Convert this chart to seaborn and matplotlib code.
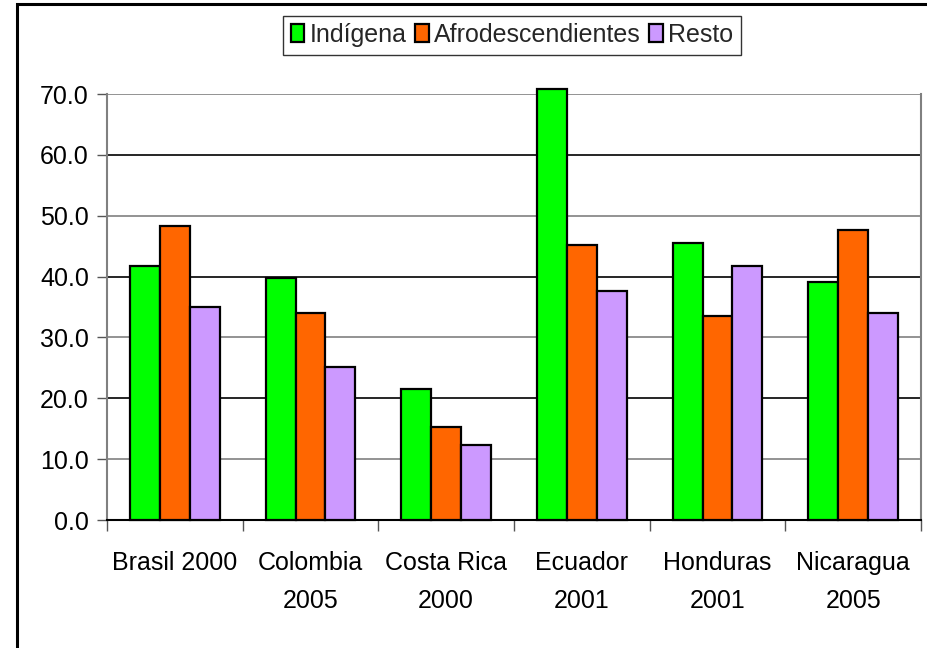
import matplotlib
matplotlib.use("Agg")
import matplotlib.pyplot as plt
from matplotlib.patches import Rectangle
from matplotlib.ticker import FixedLocator, FormatStrFormatter
import seaborn as sns
import pandas as pd

categories = ["Brasil 2000", "Colombia\n2005", "Costa Rica\n2000", "Ecuador\n2001", "Honduras\n2001", "Nicaragua\n2005"]
series_names = ["Indígena", "Afrodescendientes", "Resto"]
indigena = [41.7, 39.8, 21.5, 70.9, 45.5, 39.1]
afro = [48.3, 34.0, 15.3, 45.2, 33.5, 47.6]
resto = [35.0, 25.1, 12.3, 37.6, 41.7, 34.0]
colors = ["#00FF00", "#FF6600", "#CC99FF"]
yticks = [0, 10, 20, 30, 40, 50, 60, 70]

rows = []
for name, vals in zip(series_names, [indigena, afro, resto]):
    for c, v in zip(categories, vals):
        rows.append({"cat": c, "serie": name, "valor": v})
df = pd.DataFrame(rows)

sns.set_theme(style="white")
plt.rcParams["font.family"] = ["Liberation Sans", "DejaVu Sans"]

fig = plt.figure(figsize=(9.28, 6.48), dpi=100)
ax = fig.add_axes([107/928, 1-520/648, (921-107)/928, (520-94)/648])

sns.barplot(data=df, x="cat", y="valor", hue="serie", order=categories,
            hue_order=series_names, palette=colors, width=0.66, gap=0,
            edgecolor="black", linewidth=1.6, saturation=1, ax=ax,
            legend=True, errorbar=None, zorder=3)
for p in ax.patches:
    p.set_clip_on(False)

ax.set_ylim(0, 70)
ax.set_xlim(-0.5, 5.5)
ax.yaxis.set_major_locator(FixedLocator(yticks))
ax.yaxis.set_major_formatter(FormatStrFormatter("%.1f"))
ax.grid(axis="y", linewidth=1.2, zorder=0)
for i, gl in enumerate(ax.yaxis.get_gridlines()):
    gl.set_color("black" if i % 2 == 0 else "#808080")
ax.set_axisbelow(True)

ax.set_xlabel("")
ax.set_ylabel("")
ax.tick_params(axis="y", which="major", left=True, length=7, width=1, color="#555555",
               labelsize=18, pad=6, labelcolor="black")
ax.tick_params(axis="x", which="major", bottom=False, length=0, labelsize=18, pad=22,
               labelcolor="black")
ax.xaxis.set_minor_locator(FixedLocator([-0.5, 0.5, 1.5, 2.5, 3.5, 4.5, 5.5]))
ax.tick_params(axis="x", which="minor", bottom=True, length=8, width=1, color="#555555")
for lbl in ax.get_xticklabels():
    lbl.set_linespacing(1.75)
    lbl.set_verticalalignment("top")

for s in ["left", "right", "top"]:
    ax.spines[s].set_color("#808080")
    ax.spines[s].set_linewidth(1.5)
ax.spines["top"].set_visible(False)
ax.spines["bottom"].set_color("black")
ax.spines["bottom"].set_linewidth(1.5)

handles, labels = ax.get_legend_handles_labels()
ax.get_legend().remove()
leg = fig.legend(handles, labels, loc="center", bbox_to_anchor=(512/928, 1-35/648),
                 ncol=3, fontsize=18, frameon=True, fancybox=False, shadow=False,
                 handlelength=0.55, handleheight=0.75, handletextpad=0.2,
                 columnspacing=0.35, borderpad=0.3, borderaxespad=0)
leg.get_frame().set_edgecolor("black")
leg.get_frame().set_linewidth(1.0)

fig.add_artist(Rectangle((17/928, -0.1), 1.2, 1.1 - 3.5/648, transform=fig.transFigure,
                         fill=False, edgecolor="black", linewidth=2.2))

fig.savefig("out.png", dpi=100)
